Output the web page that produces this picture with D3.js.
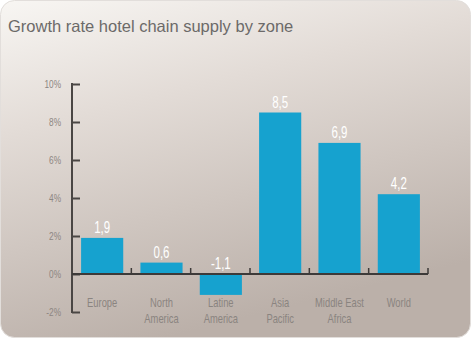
<!DOCTYPE html>
<html><head><meta charset="utf-8">
<script src="https://cdn.jsdelivr.net/npm/d3@7"></script>
<style>
html,body{margin:0;padding:0;background:#fff;}
svg{display:block;}
</style></head>
<body>
<script>
const categories = [["Europe"],["North","America"],["Latine","America"],["Asia","Pacific"],["Middle East","Africa"],["World"]];
const values = [1.9, 0.6, -1.1, 8.5, 6.9, 4.2];
const valueLabels = ["1,9","0,6","-1,1","8,5","6,9","4,2"];
const yTicks = [-2, 0, 2, 4, 6, 8, 10];
const title = "Growth rate hotel chain supply by zone";

const W = 476, H = 343;
const svg = d3.select("body").append("svg").attr("width", W).attr("height", H);
const defs = svg.append("defs");
const g1 = defs.append("linearGradient").attr("id","bg").attr("x1","0").attr("y1","0").attr("x2","0.35").attr("y2","1");
g1.append("stop").attr("offset","0").attr("stop-color","#f8f6f3");
g1.append("stop").attr("offset","0.35").attr("stop-color","#e3dcd7");
g1.append("stop").attr("offset","1").attr("stop-color","#bbb0a9");

svg.append("rect").attr("x",0.5).attr("y",0.5).attr("width",470).attr("height",337)
  .attr("rx",14).attr("fill","url(#bg)").attr("stroke","#e2dedb").attr("stroke-width",1);

svg.append("text").attr("x",8).attr("y",32).text(title)
  .attr("font-family","Liberation Sans, Arial, sans-serif").attr("font-size",16.5).attr("fill","#6c6a69");

const x = d3.scaleBand().domain(d3.range(categories.length)).range([72, 428]).padding(0);
const y = d3.scaleLinear().domain([-2, 10]).range([312, 84]);
const bw = x.bandwidth() * 0.71;
const narrow = "Liberation Sans, Arial, sans-serif";
const sx = 0.72;

// y axis
const yAxis = d3.axisRight(y).tickValues(yTicks).tickSize(8).tickFormat("");
const ya = svg.append("g").attr("transform","translate(72,0)").call(yAxis);
ya.select(".domain").remove();
ya.selectAll(".tick line").attr("stroke","#4a4644").attr("stroke-width",2);
svg.append("line").attr("x1",72).attr("x2",72).attr("y1",y(10)-1).attr("y2",y(-2)+1)
  .attr("stroke","#4a4644").attr("stroke-width",2);
svg.append("g").selectAll("text").data(yTicks).join("text")
  .attr("transform",d=>`translate(61,${y(d)+4}) scale(${sx},1)`).attr("text-anchor","end")
  .attr("font-family",narrow).attr("font-size",11.5).attr("fill","#8d8682")
  .text(d=>d+"%");

// bars
svg.append("g").selectAll("rect").data(values).join("rect")
  .attr("x",(d,i)=>x(i)+(x.bandwidth()-bw)/2+0.5)
  .attr("width",bw)
  .attr("y",d=>y(Math.max(0,d)))
  .attr("height",d=>Math.abs(y(d)-y(0)))
  .attr("fill","#16a2cf");

// baseline with small tick marks
svg.append("line").attr("x1",72).attr("x2",428).attr("y1",y(0)).attr("y2",y(0))
  .attr("stroke","#3d3a39").attr("stroke-width",2);
const bounds = d3.range(1, categories.length+1).map(i => i < categories.length ? x(i) : x(categories.length-1)+x.bandwidth());
svg.append("g").selectAll("line").data(bounds).join("line")
  .attr("x1",d=>d).attr("x2",d=>d).attr("y1",y(0)).attr("y2",y(0)-6)
  .attr("stroke","#3d3a39").attr("stroke-width",1.5);

// value labels
svg.append("g").selectAll("text").data(values).join("text")
  .attr("transform",(d,i)=>`translate(${x(i)+x.bandwidth()/2+0.5},${(d>=0 ? y(d) : y(0)) - 5}) scale(${sx},1)`)
  .attr("text-anchor","middle").attr("font-family",narrow).attr("font-size",16)
  .attr("fill","#ffffff").text((d,i)=>valueLabels[i]);

// category labels
const cl = svg.append("g").selectAll("text").data(categories).join("text")
  .attr("transform",(d,i)=>`translate(${x(i)+x.bandwidth()/2+0.5},307) scale(${sx},1)`)
  .attr("text-anchor","middle")
  .attr("font-family",narrow).attr("font-size",13).attr("fill","#8a8480");
cl.selectAll("tspan").data(d=>d).join("tspan")
  .attr("x",0)
  .attr("dy",(d,i)=>i===0?0:16).text(d=>d);
</script>
</body></html>
